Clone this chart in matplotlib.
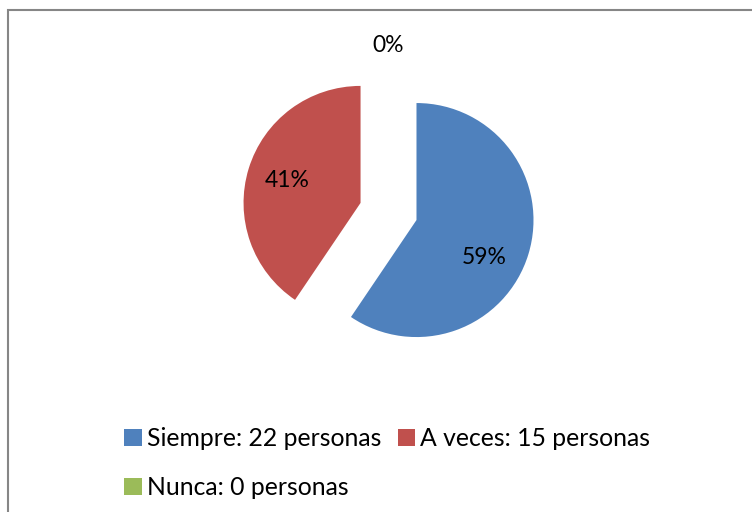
import numpy as np
import matplotlib.pyplot as plt
from matplotlib.patches import Rectangle

categorias = ['Siempre', 'A veces', 'Nunca']
personas = [22, 15, 0]
colores = ['#4F81BD', '#C0504D', '#9BBB59']

plt.rcParams['font.family'] = ['Lato', 'DejaVu Sans']

fig = plt.figure(figsize=(7.52, 5.12), dpi=100)

# marco gris del grafico (cortado a la derecha y abajo)
fig.patches.append(Rectangle((8 / 752, -0.2), 1.2, 1.2 - 10 / 512,
                             transform=fig.transFigure, fill=False,
                             edgecolor='#868686', linewidth=1.5))

ax = fig.add_axes([0.2677, 0.2213, 0.4979, 0.7313])

wedges, textos, pcts = ax.pie(
    personas,
    colors=colores,
    startangle=90,
    counterclock=False,
    explode=[0.25, 0.25, 0.25],
    autopct='%1.0f%%',
    pctdistance=0.66,
    textprops={'fontsize': 16.5},
    wedgeprops={'linewidth': 0},
)
ax.set_xlim(-1.6, 1.6)
ax.set_ylim(-1.6, 1.6)
ax.axis('off')

# la etiqueta del 0% va arriba, fuera del circulo
for w, p, v in zip(wedges, pcts, personas):
    if v == 0:
        ang = np.deg2rad(w.theta1)
        p.set_position((1.42 * np.cos(ang), 1.42 * np.sin(ang)))

# el 59% queda un poco mas abajo en el original
x, y = pcts[0].get_position()
pcts[0].set_position((x - 0.05, y - 0.13))

etiquetas = [f'{c}: {v} personas' for c, v in zip(categorias, personas)]
orden = [0, 2, 1]
leg = ax.legend([wedges[i] for i in orden], [etiquetas[i] for i in orden],
                ncol=2, loc='center', bbox_to_anchor=(0.515, 0.0955),
                bbox_transform=fig.transFigure, frameon=False, fontsize=17.8,
                handlelength=0.72, handleheight=0.72, handletextpad=0.2,
                columnspacing=0.65, labelspacing=1.05)

fig.savefig('out.png', dpi=100)
